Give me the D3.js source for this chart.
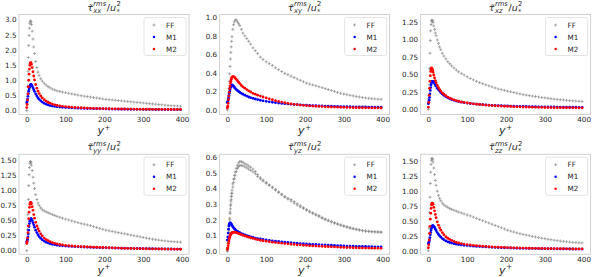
<!doctype html>
<html>
<head>
<meta charset="UTF-8">
<title>tau rms profiles</title>
<script src="https://cdn.jsdelivr.net/npm/d3@7/dist/d3.min.js"></script>
<style>
body{margin:0;background:#fff;}
text{font-family:"DejaVu Sans",sans-serif;fill:#262626;}
</style>
</head>
<body>
<script>
// wall distance y+ (shared by every series)
var yPlus = [0,1,2,3,4,5,6,7,8,9, 10,11,12,14,16,18,20,23,26,29,
    32,36,40,45,50,55,60,66,72,78, 85,92,100,108,116,124,132,140,148,156,
    164,172,180,188,196,204,212,220,228,236, 244,252,260,268,276,284,292,300,308,316,
    324,332,340,348,356,364,372,380,388,396];

// xx
var xxFF = [0.00,0.35,0.80,1.30,1.75,2.15,2.48,2.72,2.87,2.94, 2.96,2.92,2.84,2.62,2.36,2.10,1.88,1.62,1.42,1.27,
    1.16,1.05,0.97,0.90,0.84,0.79,0.75,0.71,0.68,0.65, 0.63,0.61,0.59,0.57,0.55,0.53,0.51,0.49,0.475,0.46,
    0.445,0.43,0.415,0.40,0.385,0.37,0.36,0.35,0.34,0.33, 0.32,0.31,0.30,0.29,0.28,0.27,0.26,0.25,0.24,0.23,
    0.22,0.21,0.20,0.19,0.18,0.17,0.16,0.155,0.15,0.145];
var xxM1 = [0.25,0.30,0.38,0.47,0.56,0.64,0.71,0.77,0.81,0.84, 0.85,0.86,0.85,0.81,0.75,0.69,0.63,0.55,0.48,0.42,
    0.37,0.32,0.28,0.24,0.21,0.185,0.165,0.15,0.135,0.125, 0.115,0.107,0.10,0.094,0.088,0.083,0.079,0.075,0.071,0.068,
    0.065,0.062,0.060,0.058,0.056,0.054,0.052,0.050,0.048,0.047, 0.046,0.045,0.044,0.043,0.042,0.041,0.040,0.039,0.038,0.037,
    0.036,0.035,0.035,0.034,0.034,0.033,0.033,0.032,0.032,0.031];
var xxM2 = [0.10,0.20,0.35,0.55,0.78,1.00,1.20,1.37,1.49,1.56, 1.58,1.57,1.53,1.42,1.28,1.14,1.01,0.86,0.74,0.64,
    0.56,0.48,0.42,0.36,0.31,0.275,0.245,0.215,0.19,0.17, 0.155,0.14,0.13,0.12,0.112,0.105,0.098,0.092,0.087,0.082,
    0.078,0.074,0.071,0.068,0.065,0.062,0.060,0.058,0.056,0.054, 0.052,0.051,0.050,0.049,0.048,0.047,0.046,0.045,0.044,0.043,
    0.042,0.042,0.041,0.041,0.040,0.040,0.039,0.039,0.038,0.038];

// xy
var xyFF = [0.00,0.03,0.08,0.15,0.23,0.31,0.39,0.47,0.55,0.62, 0.68,0.74,0.79,0.87,0.92,0.95,0.97,0.97,0.95,0.93,
    0.91,0.87,0.83,0.80,0.77,0.74,0.71,0.67,0.64,0.61, 0.57,0.545,0.52,0.50,0.48,0.455,0.435,0.415,0.395,0.38,
    0.365,0.35,0.335,0.32,0.305,0.29,0.28,0.27,0.26,0.25, 0.24,0.23,0.22,0.21,0.20,0.19,0.18,0.172,0.165,0.158,
    0.152,0.146,0.14,0.135,0.13,0.126,0.122,0.119,0.117,0.115];
var xyM1 = [0.08,0.09,0.11,0.13,0.155,0.18,0.20,0.22,0.24,0.25, 0.26,0.265,0.27,0.265,0.255,0.245,0.235,0.22,0.21,0.20,
    0.19,0.18,0.17,0.16,0.15,0.14,0.133,0.125,0.118,0.112, 0.105,0.099,0.093,0.088,0.083,0.079,0.075,0.071,0.068,0.065,
    0.062,0.059,0.057,0.055,0.053,0.051,0.049,0.047,0.046,0.045, 0.043,0.042,0.041,0.040,0.039,0.038,0.037,0.036,0.035,0.035,
    0.034,0.033,0.033,0.032,0.032,0.031,0.031,0.030,0.030,0.030];
var xyM2 = [0.02,0.04,0.07,0.11,0.15,0.19,0.23,0.26,0.29,0.31, 0.33,0.345,0.355,0.36,0.36,0.355,0.345,0.33,0.315,0.30,
    0.285,0.265,0.25,0.235,0.22,0.205,0.195,0.18,0.17,0.16, 0.15,0.14,0.13,0.12,0.11,0.10,0.092,0.085,0.078,0.072,
    0.066,0.061,0.057,0.053,0.05,0.047,0.044,0.042,0.04,0.038, 0.036,0.034,0.033,0.032,0.031,0.03,0.029,0.028,0.027,0.026,
    0.025,0.025,0.024,0.024,0.023,0.023,0.022,0.022,0.022,0.021];

// xz
var xzFF = [0.00,0.15,0.35,0.58,0.80,0.98,1.12,1.21,1.26,1.27, 1.27,1.26,1.24,1.19,1.14,1.09,1.05,0.99,0.94,0.89,
    0.85,0.80,0.76,0.72,0.68,0.65,0.62,0.59,0.56,0.535, 0.51,0.49,0.465,0.44,0.42,0.40,0.38,0.365,0.35,0.335,
    0.32,0.305,0.29,0.28,0.27,0.26,0.25,0.24,0.23,0.22, 0.21,0.203,0.196,0.189,0.182,0.175,0.169,0.163,0.157,0.152,
    0.147,0.142,0.137,0.133,0.129,0.125,0.121,0.118,0.115,0.112];
var xzM1 = [0.08,0.10,0.13,0.17,0.22,0.27,0.31,0.35,0.375,0.39, 0.40,0.40,0.40,0.39,0.37,0.35,0.33,0.30,0.28,0.26,
    0.24,0.22,0.20,0.18,0.165,0.15,0.14,0.128,0.118,0.11, 0.102,0.095,0.089,0.083,0.078,0.074,0.07,0.066,0.063,0.06,
    0.057,0.055,0.053,0.051,0.049,0.047,0.046,0.045,0.043,0.042, 0.041,0.040,0.039,0.038,0.037,0.036,0.035,0.035,0.034,0.033,
    0.033,0.032,0.032,0.031,0.031,0.030,0.030,0.030,0.029,0.029];
var xzM2 = [0.03,0.10,0.20,0.30,0.40,0.48,0.54,0.575,0.59,0.585, 0.57,0.55,0.53,0.49,0.45,0.41,0.38,0.34,0.31,0.28,
    0.26,0.235,0.215,0.195,0.175,0.16,0.148,0.135,0.124,0.115, 0.106,0.098,0.091,0.085,0.079,0.074,0.069,0.065,0.061,0.057,
    0.054,0.051,0.048,0.046,0.044,0.042,0.040,0.038,0.036,0.035, 0.033,0.032,0.031,0.030,0.029,0.028,0.027,0.026,0.025,0.025,
    0.024,0.024,0.023,0.023,0.022,0.022,0.021,0.021,0.021,0.020];

// yy
var yyFF = [0.00,0.15,0.35,0.60,0.85,1.08,1.26,1.38,1.45,1.48, 1.48,1.46,1.42,1.33,1.22,1.12,1.03,0.93,0.85,0.79,
    0.75,0.71,0.68,0.66,0.645,0.63,0.615,0.60,0.585,0.57, 0.555,0.54,0.525,0.51,0.495,0.48,0.465,0.45,0.44,0.43,
    0.415,0.40,0.385,0.37,0.355,0.34,0.33,0.32,0.31,0.30, 0.29,0.28,0.27,0.26,0.25,0.24,0.23,0.22,0.21,0.20,
    0.19,0.182,0.175,0.168,0.162,0.157,0.152,0.148,0.145,0.142];
var yyM1 = [0.15,0.16,0.19,0.23,0.28,0.34,0.40,0.45,0.49,0.515, 0.525,0.53,0.525,0.50,0.465,0.43,0.39,0.34,0.30,0.265,
    0.235,0.205,0.18,0.16,0.14,0.128,0.117,0.107,0.099,0.092, 0.086,0.081,0.077,0.073,0.07,0.067,0.064,0.062,0.06,0.058,
    0.056,0.054,0.052,0.05,0.049,0.047,0.046,0.045,0.044,0.043, 0.042,0.041,0.04,0.039,0.038,0.037,0.036,0.035,0.034,0.033,
    0.032,0.031,0.03,0.03,0.029,0.028,0.028,0.027,0.027,0.026];
var yyM2 = [0.12,0.15,0.21,0.30,0.41,0.53,0.64,0.72,0.77,0.795, 0.80,0.795,0.78,0.73,0.67,0.60,0.54,0.47,0.41,0.365,
    0.325,0.28,0.245,0.21,0.185,0.165,0.15,0.135,0.122,0.112, 0.103,0.095,0.088,0.083,0.078,0.074,0.071,0.068,0.065,0.063,
    0.061,0.059,0.057,0.055,0.053,0.051,0.049,0.047,0.045,0.043, 0.041,0.04,0.038,0.037,0.036,0.035,0.034,0.033,0.032,0.031,
    0.03,0.029,0.028,0.028,0.027,0.026,0.026,0.025,0.025,0.024];

// yz (FF has two slightly different traces)
var yzFF = [0.00,0.02,0.05,0.09,0.13,0.17,0.21,0.25,0.29,0.32, 0.35,0.37,0.39,0.43,0.46,0.485,0.505,0.53,0.55,0.565,
    0.575,0.573,0.568,0.56,0.553,0.545,0.537,0.525,0.51,0.49, 0.47,0.455,0.44,0.425,0.41,0.395,0.38,0.365,0.35,0.338,
    0.33,0.317,0.303,0.29,0.278,0.266,0.255,0.245,0.236,0.227, 0.215,0.206,0.198,0.19,0.182,0.175,0.168,0.162,0.156,0.15,
    0.145,0.14,0.136,0.132,0.129,0.127,0.125,0.124,0.123,0.122];
var yzFF2 = [0.00,0.02,0.05,0.08,0.12,0.16,0.20,0.24,0.27,0.30, 0.33,0.35,0.37,0.41,0.44,0.465,0.485,0.51,0.53,0.54,
    0.548,0.549,0.546,0.54,0.533,0.525,0.517,0.507,0.495,0.478, 0.462,0.448,0.434,0.42,0.405,0.39,0.375,0.36,0.345,0.333,
    0.32,0.307,0.295,0.283,0.272,0.261,0.25,0.24,0.23,0.22, 0.21,0.201,0.193,0.185,0.178,0.171,0.165,0.159,0.153,0.147,
    0.142,0.138,0.134,0.13,0.127,0.125,0.123,0.122,0.121,0.12];
var yzM1 = [0.07,0.09,0.115,0.14,0.16,0.172,0.178,0.18,0.179,0.176, 0.172,0.168,0.164,0.156,0.149,0.143,0.138,0.131,0.126,0.121,
    0.117,0.112,0.108,0.103,0.099,0.095,0.091,0.087,0.083,0.08, 0.077,0.074,0.071,0.068,0.065,0.063,0.061,0.059,0.057,0.055,
    0.053,0.051,0.05,0.048,0.047,0.045,0.044,0.043,0.042,0.041, 0.04,0.039,0.038,0.037,0.036,0.035,0.034,0.033,0.032,0.032,
    0.031,0.03,0.03,0.029,0.029,0.028,0.028,0.027,0.027,0.026];
var yzM2 = [0.01,0.02,0.035,0.05,0.065,0.078,0.088,0.096,0.103,0.108, 0.112,0.115,0.117,0.12,0.121,0.121,0.12,0.118,0.115,0.112,
    0.109,0.105,0.101,0.097,0.093,0.089,0.085,0.081,0.077,0.073, 0.069,0.066,0.063,0.06,0.057,0.054,0.052,0.05,0.048,0.046,
    0.044,0.042,0.04,0.039,0.037,0.036,0.034,0.033,0.032,0.031, 0.03,0.029,0.028,0.027,0.026,0.025,0.024,0.023,0.022,0.022,
    0.021,0.021,0.02,0.02,0.019,0.019,0.018,0.018,0.018,0.017];

// zz
var zzFF = [0.00,0.15,0.38,0.64,0.90,1.13,1.32,1.45,1.52,1.55, 1.55,1.53,1.49,1.39,1.28,1.18,1.10,1.00,0.93,0.88,
    0.84,0.80,0.77,0.75,0.73,0.71,0.695,0.68,0.665,0.65, 0.635,0.62,0.60,0.585,0.565,0.545,0.525,0.505,0.485,0.465,
    0.445,0.425,0.405,0.385,0.365,0.345,0.33,0.315,0.30,0.287, 0.275,0.263,0.252,0.241,0.231,0.221,0.211,0.202,0.193,0.185,
    0.177,0.17,0.163,0.157,0.151,0.146,0.141,0.137,0.133,0.13];
var zzM1 = [0.12,0.13,0.15,0.18,0.22,0.27,0.31,0.35,0.38,0.40, 0.415,0.42,0.42,0.41,0.39,0.365,0.34,0.305,0.275,0.25,
    0.23,0.205,0.185,0.165,0.15,0.138,0.128,0.118,0.11,0.103, 0.097,0.091,0.086,0.081,0.077,0.073,0.07,0.067,0.064,0.061,
    0.058,0.056,0.054,0.052,0.05,0.048,0.046,0.045,0.043,0.042, 0.041,0.04,0.039,0.038,0.037,0.036,0.035,0.034,0.033,0.033,
    0.032,0.031,0.031,0.03,0.03,0.029,0.029,0.028,0.028,0.028];
var zzM2 = [0.05,0.10,0.18,0.29,0.41,0.53,0.63,0.71,0.77,0.795, 0.80,0.795,0.78,0.73,0.67,0.61,0.555,0.485,0.43,0.385,
    0.345,0.305,0.27,0.235,0.21,0.19,0.172,0.155,0.142,0.13, 0.12,0.111,0.103,0.096,0.09,0.085,0.08,0.076,0.072,0.068,
    0.065,0.062,0.059,0.057,0.055,0.053,0.051,0.049,0.047,0.045, 0.044,0.043,0.042,0.041,0.04,0.039,0.038,0.037,0.036,0.035,
    0.034,0.034,0.033,0.033,0.032,0.032,0.031,0.031,0.03,0.03];

// tick labels
var xTicks = [0,100,200,300,400];
var xxTicks = [0,0.5,1,1.5,2,2.5,3];
var xyTicks = [0,0.2,0.4,0.6,0.8,1];
var xzTicks = [0,0.25,0.5,0.75,1,1.25];
var yyTicks = [0,0.25,0.5,0.75,1,1.25,1.5];
var yzTicks = [0,0.1,0.2,0.3,0.4,0.5,0.6];
var zzTicks = [0,0.25,0.5,0.75,1,1.25,1.5];
var legendNames = ["FF","M1","M2"];

var panels = [
    {sub:"xx", ff:[xxFF], m1:xxM1, m2:xxM2, yDom:[-0.13,3.17], ticks:xxTicks, fmt:".1f"},
    {sub:"xy", ff:[xyFF], m1:xyM1, m2:xyM2, yDom:[-0.049,1.03], ticks:xyTicks, fmt:".1f"},
    {sub:"xz", ff:[xzFF], m1:xzM1, m2:xzM2, yDom:[-0.074,1.353], ticks:xzTicks, fmt:".2f"},
    {sub:"yy", ff:[yyFF], m1:yyM1, m2:yyM2, yDom:[-0.06,1.6], ticks:yyTicks, fmt:".2f"},
    {sub:"yz", ff:[yzFF,yzFF2], m1:yzM1, m2:yzM2, yDom:[-0.021,0.62], ticks:yzTicks, fmt:".1f"},
    {sub:"zz", ff:[zzFF], m1:zzM1, m2:zzM2, yDom:[-0.06,1.62], ticks:zzTicks, fmt:".2f"}
];

var W = 592, H = 277;
var lefts = [19, 219.6, 420.6], tops = [14.5, 154.3];
var pw = 170, ph = 100;
var ffCol = "#8a8a8a", m1Col = "#0000ff", m2Col = "#ff0000";

var svg = d3.select("body").append("svg").attr("width", W).attr("height", H);

function plus(x, y, s){
    return "M"+(x-s)+","+y+"h"+(2*s)+"M"+x+","+(y-s)+"v"+(2*s);
}

function drawTitle(g, cx, by, sub){
    var t = g.append("g");
    var fs = 9.5, ss = 6.8;
    var a = t.append("text").attr("x",0).attr("y",by).style("font-size",fs+"px")
        .style("font-style","italic").text("\u03c4\u0303");
    var w1 = a.node().getComputedTextLength() + 0.3;
    var sp = t.append("text").attr("x",w1).attr("y",by-4.2).style("font-size",ss+"px")
        .style("font-style","italic").text("rms");
    var sb = t.append("text").attr("x",w1).attr("y",by+2.4).style("font-size",ss+"px")
        .style("font-style","italic").text(sub);
    var w2 = w1 + Math.max(sp.node().getComputedTextLength(), sb.node().getComputedTextLength()) + 0.6;
    var sl = t.append("text").attr("x",w2).attr("y",by).style("font-size",fs+"px").text("/");
    var w3 = w2 + sl.node().getComputedTextLength();
    var u = t.append("text").attr("x",w3).attr("y",by).style("font-size",fs+"px")
        .style("font-style","italic").text("u");
    var w4 = w3 + u.node().getComputedTextLength() + 0.3;
    var s2 = t.append("text").attr("x",w4).attr("y",by-4.2).style("font-size",ss+"px").text("2");
    var s3 = t.append("text").attr("x",w4).attr("y",by+3).style("font-size",ss+"px").text("*");
    var w5 = w4 + Math.max(s2.node().getComputedTextLength(), s3.node().getComputedTextLength());
    t.attr("transform","translate("+(cx-w5/2)+",0)");
}

function drawXLabel(g, cx, by){
    var t = g.append("g");
    var a = t.append("text").attr("x",0).attr("y",by).style("font-size","11px")
        .style("font-style","italic").text("y");
    var w1 = a.node().getComputedTextLength() + 0.6;
    var b = t.append("text").attr("x",w1).attr("y",by-4.5).style("font-size","7px").text("+");
    var w2 = w1 + b.node().getComputedTextLength();
    t.attr("transform","translate("+(cx-w2/2)+",0)");
}

panels.forEach(function(p, i){
    var L = lefts[i % 3], T = tops[Math.floor(i / 3)];
    var x = d3.scaleLinear().domain([-20, 418]).range([L, L + pw]);
    var y = d3.scaleLinear().domain(p.yDom).range([T + ph, T]);
    var g = svg.append("g");

    g.append("rect").attr("x",L).attr("y",T).attr("width",pw).attr("height",ph)
        .attr("fill","none").attr("stroke","#cccccc").attr("stroke-width",0.9);

    var xa = g.append("g").attr("transform","translate(0,"+(T+ph)+")")
        .call(d3.axisBottom(x).tickValues(xTicks).tickSize(0).tickPadding(2.5));
    var ya = g.append("g").attr("transform","translate("+L+",0)")
        .call(d3.axisLeft(y).tickValues(p.ticks).tickSize(0).tickPadding(2.5).tickFormat(d3.format(p.fmt)));
    [xa, ya].forEach(function(a){
        a.select(".domain").remove();
        a.selectAll("text").attr("fill","#262626").style("font-size","7.2px")
            .style("font-family","'DejaVu Sans',sans-serif");
    });

    // FF crosses
    p.ff.forEach(function(arr){
        g.append("g").selectAll("path").data(arr).enter().append("path")
            .attr("d", function(d, j){ return plus(x(yPlus[j]), y(d), 1.5); })
            .attr("stroke", ffCol).attr("stroke-width", 0.7).attr("fill","none");
    });
    // M1 and M2 dots
    [[p.m1, m1Col], [p.m2, m2Col]].forEach(function(s){
        g.append("g").selectAll("circle").data(s[0]).enter().append("circle")
            .attr("cx", function(d, j){ return x(yPlus[j]); })
            .attr("cy", function(d){ return y(d); })
            .attr("r", 1.4).attr("fill", s[1]);
    });

    drawTitle(g, L + pw/2, T - 4, p.sub);
    drawXLabel(g, L + pw/2, T + ph + 19.5);

    // legend
    var lw = 42, lh = 38, lx = L + pw - 3 - lw, ly = T + 3;
    var lg = g.append("g");
    lg.append("rect").attr("x",lx).attr("y",ly).attr("width",lw).attr("height",lh).attr("rx",2)
        .attr("fill","#fff").attr("fill-opacity",0.85).attr("stroke","#dddddd").attr("stroke-width",0.8);
    legendNames.forEach(function(n, k){
        var cy = ly + 7.5 + 12*k;
        if(k == 0){
            lg.append("path").attr("d", plus(lx+10, cy, 1.5)).attr("stroke", ffCol)
                .attr("stroke-width",0.7).attr("fill","none");
        } else {
            lg.append("circle").attr("cx",lx+10).attr("cy",cy).attr("r",1.25)
                .attr("fill", k == 1 ? m1Col : m2Col);
        }
        lg.append("text").attr("x",lx+22).attr("y",cy+2.6).style("font-size","7.2px").text(n);
    });
});
</script>
</body>
</html>
